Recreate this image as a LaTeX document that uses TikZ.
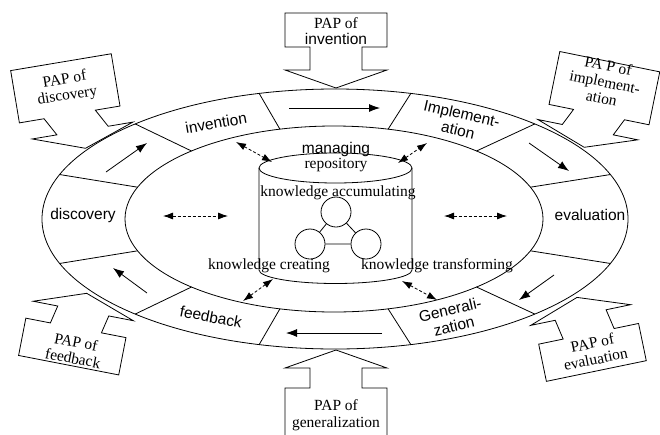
\documentclass[tikz,border=0pt]{standalone}
\usepackage{fontspec}
\setmainfont{Liberation Serif}
\setsansfont{Liberation Sans}
\usetikzlibrary{arrows.meta}

\begin{document}
\begin{tikzpicture}[x=1pt, y=-1pt, line width=0.8pt,
    sanslabel/.style={font=\sffamily\fontsize{15.5}{17}\selectfont, align=center, inner sep=0pt},
    seriflabel/.style={font=\fontsize{15.5}{16.5}\selectfont, align=center, inner sep=0pt},
    know/.style={circle, draw, minimum size=30pt, inner sep=0pt},
    flow/.style={-{Latex[length=11pt,width=8pt]}},
    share/.style={dash pattern=on 3pt off 2pt, {Latex[length=10pt,width=7pt]}-{Latex[length=10pt,width=7pt]}},
    pics/pap/.style n args={3}{code={
      \draw (0,0) -- (-51,-18) -- (-26,-18) -- ({-26+#3},{-18-#1}) -- ({-51+#3},{-18-#1})
        -- ({-51+#3},{-18-#1-#2}) -- ({51+#3},{-18-#1-#2}) -- ({51+#3},{-18-#1})
        -- ({26+#3},{-18-#1}) -- (26,-18) -- (51,-18) -- cycle;
    }}]
    \useasboundingbox (0,0) rectangle (660,434);
    \clip (0,0) rectangle (660,434);

    % flow arrows inside the ring
    \coordinate (F1) at (289,108);  \coordinate (F2) at (380,108);
    \coordinate (F3) at (529,143);  \coordinate (F4) at (569,171);
    \coordinate (F5) at (554,275);  \coordinate (F6) at (519,300);
    \coordinate (F7) at (382,333);  \coordinate (F8) at (286,333);
    \coordinate (F9) at (147,293);  \coordinate (F10) at (113,268);
    \coordinate (F11) at (106,172); \coordinate (F12) at (147,143);

    % links to the repository
    \coordinate (L1) at (236,142);  \coordinate (L2) at (272,162);
    \coordinate (L3) at (398,163);  \coordinate (L4) at (427,143);
    \coordinate (L5) at (163,216);  \coordinate (L6) at (228,216);
    \coordinate (L7) at (444,216);  \coordinate (L8) at (507,216);
    \coordinate (L9) at (243,301);  \coordinate (L10) at (273,279);
    \coordinate (L11) at (402,281); \coordinate (L12) at (437,300);

    \draw (335,219) ellipse [x radius=293, y radius=130];
    \draw (334,219) ellipse [x radius=209, y radius=93];
    \foreach \a in {20,47,75,105,133,160,200,227,255,285,313,340}
      \draw ({335+293*cos(\a)},{219-130*sin(\a)}) -- ({334+209*cos(\a)},{219-93*sin(\a)});

    \node[sanslabel, rotate=10] (inv) at (216,123) {invention};
    \node[sanslabel, rotate=-13] (imp) at (460,122) {Implement-\\ation};
    \node[sanslabel] (eva) at (590,215) {evaluation};
    \node[sanslabel, rotate=13] (gen) at (452,318) {Generali-\\zation};
    \node[sanslabel, rotate=-11] (fee) at (211,317) {feedback};
    \node[sanslabel] (dis) at (83,215) {discovery};

    \draw[flow] (F1) -- (F2);
    \draw[flow] (F3) -- (F4);
    \draw[flow] (F5) -- (F6);
    \draw[flow] (F7) -- (F8);
    \draw[flow] (F9) -- (F10);
    \draw[flow] (F11) -- (F12);

    % repository
    \draw (335.5,168) ellipse [x radius=76.5, y radius=15];
    \draw (259,168) -- (259,270) arc [start angle=180, end angle=0, x radius=76.5, y radius=13.5] -- (412,168);
    \node[sanslabel] (mng) at (336,149) {managing};
    \node[seriflabel] (rep) at (336,165) {repository};
    \node[seriflabel] (kacc) at (338,193) {knowledge accumulating};
    \node[seriflabel] (kcre) at (269,266) {knowledge creating};
    \node[seriflabel] (ktra) at (437,266) {knowledge transforming};
    \node[know] (acc) at (336,212) {};
    \node[know] (cre) at (310,244) {};
    \node[know] (tra) at (366,244) {};
    \draw (acc) -- (cre) -- (tra) -- (acc);

    \draw[share] (L1) -- (L2);
    \draw[share] (L3) -- (L4);
    \draw[share] (L5) -- (L6);
    \draw[share] (L7) -- (L8);
    \draw[share] (L9) -- (L10);
    \draw[share] (L11) -- (L12);

    % PAP callouts
    \pic at (336,88) {pap={23}{34}{0}};
    \pic[rotate=9.5] at (85.5,148.3) {pap={18}{53}{-10}};
    \pic[rotate=-11.5] at (584.2,147.3) {pap={17}{54}{8}};
    \pic[rotate=191.7] at (577,297.4) {pap={20}{38}{-4}};
    \pic[rotate=169] at (86.7,293.3) {pap={18}{38}{4}};
    \pic[rotate=180] at (336,350) {pap={20}{60}{0}};

    \node[seriflabel] (pinv) at (336,31) {PAP of\\\sffamily invention};
    \node[seriflabel, rotate=9.5] (pdis) at (66,88) {PAP of\\discovery};
    \node[seriflabel, rotate=-11.5] (pimp) at (605,82) {PA P of\\implement-\\ation};
    \node[seriflabel, rotate=11.7] (peva) at (594,351) {PAP of\\evaluation};
    \node[seriflabel, rotate=-11] (pfee) at (74.5,350) {PAP of\\feedback};
    \node[seriflabel] (pgen) at (336,415) {PAP of\\generalization};
\end{tikzpicture}
\end{document}
